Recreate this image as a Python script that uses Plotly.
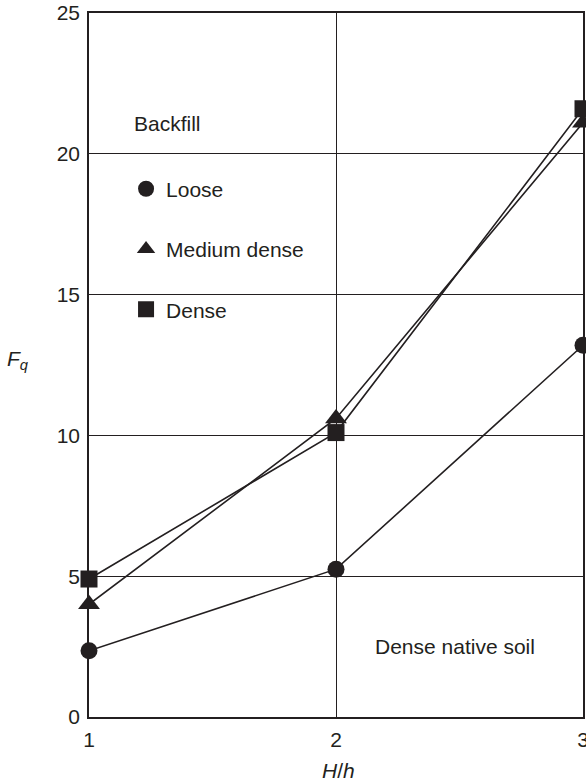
import plotly.graph_objects as go

hh = [1, 2, 3]
loose = [2.35, 5.25, 13.2]
medium = [4.0, 10.6, 21.1]
dense = [4.9, 10.1, 21.6]
series = [("Loose", loose, "circle", 17), ("Medium dense", medium, "triangle-up", 19), ("Dense", dense, "square", 17)]

C = "#231f20"
FONT = "Liberation Sans, Arial, sans-serif"
FS = 21

fig = go.Figure()
for name, vals, sym, sz in series:
    fig.add_trace(go.Scatter(x=hh, y=vals, mode="lines+markers", showlegend=False, cliponaxis=False,
                             line=dict(color=C, width=1.6),
                             marker=dict(symbol=sym, size=sz, color=C)))
for i, (name, vals, sym, sz) in enumerate(series):
    fig.add_trace(go.Scatter(x=[None], y=[None], mode="markers", name=name, legendgroup=f"g{i}",
                             marker=dict(symbol=sym, size=sz, color=C)))

fig.add_annotation(x=1.175, y=21.06, xref="x", yref="y", text="Backfill", showarrow=False,
                   xanchor="left", font=dict(size=FS, color=C, family=FONT))
fig.add_annotation(x=2.48, y=2.5, xref="x", yref="y", text="Dense native soil", showarrow=False,
                   font=dict(size=FS, color=C, family=FONT))
fig.add_annotation(x=-84 / 494, y=0.507, xref="paper", yref="paper", text="<i>F<sub>q</sub></i>",
                   showarrow=False, xanchor="left", yanchor="middle", font=dict(size=FS, color=C, family=FONT))
fig.add_annotation(x=0.505, y=-0.0753, xref="paper", yref="paper", text="<i>H</i>/<i>h</i>",
                   showarrow=False, xanchor="center", yanchor="middle", font=dict(size=FS, color=C, family=FONT))

fig.update_layout(
    width=586, height=782,
    margin=dict(l=89, r=3, t=13, b=65, autoexpand=False),
    paper_bgcolor="white", plot_bgcolor="white",
    font=dict(family=FONT, size=FS, color=C),
    legend=dict(x=0.075, y=0.779, xanchor="left", yanchor="top", traceorder="grouped",
                tracegroupgap=30, bgcolor="rgba(0,0,0,0)", font=dict(size=FS, color=C)),
    xaxis=dict(range=[1, 3], tickvals=[1, 2, 3], showgrid=True, gridcolor=C, gridwidth=1.3,
               showline=True, linecolor=C, linewidth=1.6, mirror=True, zeroline=False, automargin=False,
               ticks="", ticklabelstandoff=3, ticklabeloverflow="allow"),
    yaxis=dict(range=[0, 25], tickvals=[0, 5, 10, 15, 20, 25], showgrid=True, gridcolor=C, gridwidth=1.3,
               showline=True, linecolor=C, linewidth=1.6, mirror=True, zeroline=False, automargin=False,
               ticks="", ticklabelstandoff=3, ticklabeloverflow="allow"),
)
fig.write_html("out.html", config={"displayModeBar": False},
               post_script="document.body.style.margin='0';document.body.style.overflow='hidden';")
